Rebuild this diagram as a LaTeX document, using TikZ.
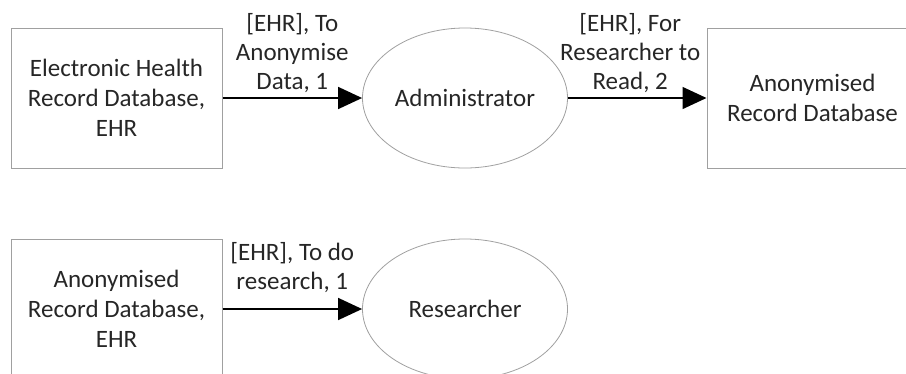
\documentclass[tikz,border=0pt]{standalone}
\usepackage{fontspec}
\setmainfont{Carlito}
\usetikzlibrary{shapes.geometric,arrows.meta}
\definecolor{edgegray}{HTML}{A0A0A0}
\definecolor{txt}{HTML}{262626}
\tikzset{
  store/.style={draw=edgegray,line width=1pt,minimum width=211pt,minimum height=140pt,inner sep=0pt,align=center,text=txt,font=\fontsize{25}{30}\selectfont},
  proc/.style={ellipse,draw=edgegray,line width=0.8pt,minimum width=205pt,minimum height=140pt,inner sep=0pt,align=center,text=txt,font=\fontsize{25}{30}\selectfont},
  flow/.style={line width=1.5pt,-{Triangle[length=24pt,width=22pt]}},
  flowlabel/.style={above,inner sep=0pt,yshift=5pt,align=center,text=txt,font=\fontsize{25}{29}\selectfont}
}
\begin{document}
\begin{tikzpicture}[x=1pt,y=-1pt]
\useasboundingbox (0,0) rectangle (906,373);
\clip (0,0) rectangle (906,373);
\node[store] (ehr) at (116.5,98) {Electronic Health\\Record Database,\\EHR};
\node[proc] (admin) at (465,98) {Administrator};
\node[store] (anon) at (812.5,98) {Anonymised\\Record Database};
\node[store] (anon2) at (116.5,309) {Anonymised\\Record Database,\\EHR};
\node[proc] (res) at (465,309) {Researcher};
\draw[flow] (ehr) -- node[flowlabel] {[EHR], To\\Anonymise\\Data, 1} (admin);
\draw[flow] (admin) -- node[flowlabel,xshift=-7pt] {[EHR], For\\Researcher to\\Read, 2} (anon);
\draw[flow] (anon2) -- node[flowlabel,yshift=11pt] {[EHR], To do\\research, 1} (res);
\end{tikzpicture}
\end{document}
